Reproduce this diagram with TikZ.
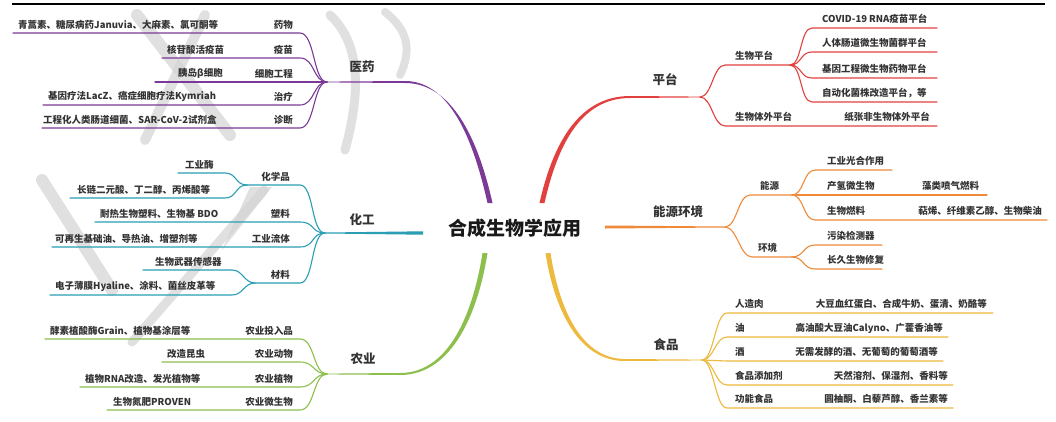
\documentclass[tikz,border=0pt]{standalone}
\usepackage{fontspec}
\setmainfont{Noto Sans CJK SC}
\usetikzlibrary{calc}
\definecolor{cmed}{HTML}{7B3A96}
\definecolor{cred}{HTML}{E2403E}
\definecolor{cora}{HTML}{EE8A3A}
\definecolor{cgold}{HTML}{EDB93E}
\definecolor{cgrn}{HTML}{8CBF4B}
\definecolor{ctea}{HTML}{2A9EB3}
\definecolor{ctxt}{HTML}{333333}
\definecolor{cwm}{HTML}{D4D4D4}
% left leaf: #1 name, #2 hub, #3 underline y, #4 line start x, #5 text x, #6 text, #7 label right x, #8 label
\newcommand\lleaf[8]{%
  \coordinate (#1e) at (#4,#3);
  \coordinate (#1k) at (300,#3);
  \node[leaf,anchor=west] (#1t) at (#5,#3-8.5) {#6};
  \node[leaf,anchor=east] (#1l) at (#7,#3-8.5) {#8};
  \draw[br] (#1e) -- (#1k) .. controls +(15,0) and +(-14,0) .. (#2);
}
% right line: #1 name, #2 hub, #3 underline y, #4 x where horizontal starts, #5 end x
\newcommand\rline[5]{%
  \coordinate (#1k) at (#4,#3);
  \coordinate (#1e) at (#5,#3);
  \draw[br] (#2) .. controls +(12,0) and +(-12,0) .. (#1k) -- (#1e);
}
\begin{document}
\begin{tikzpicture}[x=1pt,y=-1pt,
  leaf/.style={inner sep=0pt, font=\fontsize{9.5}{11}\selectfont\bfseries, text=ctxt},
  topic/.style={inner sep=0pt, font=\fontsize{12.5}{14}\selectfont\bfseries, text=ctxt},
  rootnode/.style={inner sep=0pt, font=\fontsize{19}{22}\selectfont\bfseries, text=black!90},
  br/.style={line width=1.1pt, line cap=round},
  wm/.style={cwm, line cap=round, opacity=0.7}]
\useasboundingbox (0,0) rectangle (1056,421);
\fill[white] (0,0) rectangle (1056,421);

% watermark strokes
\draw[wm, line width=12] (137,15) -- (230,135);
\draw[wm, line width=10] (205,15) -- (145,140);
\draw[wm, line width=12] (42,180) -- (112,290);
\draw[wm, line width=9] (264,190) -- (132,342);
\fill[wm] (250,187) -- (272,187) -- (222,250) -- cycle;
\draw[wm, line width=9] (330,15) .. controls (362,45) and (360,95) .. (345,150);
\draw[wm, line width=8] (385,12) .. controls (408,30) and (412,50) .. (400,75);

% top rule
\coordinate (ruleL) at (12,4);
\coordinate (ruleR) at (1045,4);
\draw[line width=2pt] (ruleL) -- (ruleR);

% root
\node[rootnode] (root) at (515,228) {合成生物学应用};

% hubs
\coordinate (med) at (327,82);
\coordinate (chem) at (325,233);
\coordinate (agri) at (327,374);
\coordinate (plat) at (700,97);
\coordinate (en) at (725,227);
\coordinate (food) at (702,360);

% main tapered branches
\fill[cmed] (487.5,203) .. controls (475.5,150) and (453.5,81) .. (405,81) -- (327,81.6)
  -- (327,82.4) -- (405,83) .. controls (456.5,83) and (480.5,150) .. (492.5,203) -- cycle;
\fill[cred] (539.5,203) .. controls (551.5,150) and (575.5,96) .. (630,96) -- (700,96.6)
  -- (700,97.4) -- (630,98) .. controls (578.5,98) and (556.5,150) .. (544.5,203) -- cycle;
\fill[ctea] (423,231.3) -- (325,232.5) -- (325,233.5) -- (423,234.7) -- cycle;
\fill[cora] (605,225.5) -- (725,226.5) -- (725,227.5) -- (605,228.5) -- cycle;
\fill[cgrn] (482.5,253) .. controls (473.5,310) and (450.5,373) .. (400,373) -- (327,373.6)
  -- (327,374.4) -- (400,375) .. controls (453.5,375) and (478.5,310) .. (487.5,253) -- cycle;
\fill[cgold] (545.5,253) .. controls (553.5,305) and (576.5,361) .. (625,361) -- (702,360.4)
  -- (702,359.6) -- (625,359) .. controls (579.5,359) and (558.5,305) .. (550.5,253) -- cycle;

% topic labels
\node[topic] (tmed) at (362,67) {医药};
\node[topic] (tchem) at (362,220) {化工};
\node[topic] (tagri) at (363,359) {农业};
\node[topic] (tplat) at (665,80) {平台};
\node[topic] (ten) at (678,212) {能源环境};
\node[topic] (tfood) at (666,345) {食品};

% ===== 医药 =====
\begin{scope}[color=cmed]
\lleaf{m1}{med}{33}{13}{18}{青蒿素、糖尿病药Januvia、大麻素、氯可酮等}{293}{药物}
\lleaf{m2}{med}{58}{162}{167}{核苷酸活疫苗}{293}{疫苗}
\lleaf{m3}{med}{82}{155}{178}{胰岛β细胞}{293}{细胞工程}
\lleaf{m4}{med}{105}{43}{48}{基因疗法LacZ、癌症细胞疗法Kymriah}{293}{治疗}
\lleaf{m5}{med}{128}{42}{43}{工程化人类肠道细菌、SAR-CoV-2试剂盒}{293}{诊断}
\end{scope}

% ===== 化工 =====
\begin{scope}[color=ctea]
\coordinate (chA) at (247,185);
\coordinate (chAk) at (300,185);
\node[leaf,anchor=east] (chAl) at (290,176.5) {化学品};
\draw[br] (chA) -- (chAk) .. controls +(14,0) and +(-14,0) .. (chem);
\coordinate (ch1e) at (178,173);
\coordinate (ch1k) at (225,173);
\node[leaf,anchor=west] (ch1t) at (185,164.5) {工业酶};
\draw[br] (ch1e) -- (ch1k) .. controls +(12,0) and +(-12,0) .. (chA);
\coordinate (ch2e) at (70,198);
\coordinate (ch2k) at (225,198);
\node[leaf,anchor=west] (ch2t) at (77,189.5) {长链二元酸、丁二醇、丙烯酸等};
\draw[br] (ch2e) -- (ch2k) .. controls +(12,0) and +(-12,0) .. (chA);
\lleaf{ch3}{chem}{222}{95}{100}{耐热生物塑料、生物基 BDO}{290}{塑料}
\lleaf{ch4}{chem}{247}{52}{55}{可再生基础油、导热油、增塑剂等}{290}{工业流体}
\coordinate (chB) at (255,283);
\coordinate (chBk) at (300,283);
\node[leaf,anchor=east] (chBl) at (290,274.5) {材料};
\draw[br] (chB) -- (chBk) .. controls +(14,0) and +(-14,0) .. (chem);
\coordinate (ch5e) at (143,270);
\coordinate (ch5k) at (232,270);
\node[leaf,anchor=west] (ch5t) at (155,261.5) {生物武器传感器};
\draw[br] (ch5e) -- (ch5k) .. controls +(11,0) and +(-11,0) .. (chB);
\coordinate (ch6e) at (50,295);
\coordinate (ch6k) at (232,295);
\node[leaf,anchor=west] (ch6t) at (55,286.5) {电子薄膜Hyaline、涂料、菌丝皮革等};
\draw[br] (ch6e) -- (ch6k) .. controls +(11,0) and +(-11,0) .. (chB);
\end{scope}

% ===== 农业 =====
\begin{scope}[color=cgrn]
\lleaf{a1}{agri}{339}{45}{50}{酵素植酸酶Grain、植物基涂层等}{293}{农业投入品}
\lleaf{a2}{agri}{362}{162}{167}{改造昆虫}{293}{农业动物}
\lleaf{a3}{agri}{387}{80}{85}{植物RNA改造、发光植物等}{293}{农业植物}
\lleaf{a4}{agri}{410}{107}{113}{生物氮肥PROVEN}{293}{农业微生物}
\end{scope}

% ===== 平台 =====
\begin{scope}[color=cred]
\coordinate (plA) at (790,65);
\node[leaf,anchor=west] (plAl) at (735,56) {生物平台};
\rline{plA0}{plat}{65}{725}{790}
\rline{pl1}{plA}{28}{812}{937}
\rline{pl2}{plA}{52}{812}{937}
\rline{pl3}{plA}{78}{812}{937}
\rline{pl4}{plA}{102}{812}{937}
\node[leaf,anchor=west] (pl1t) at (822,19) {COVID-19 RNA疫苗平台};
\node[leaf,anchor=west] (pl2t) at (822,43) {人体肠道微生物菌群平台};
\node[leaf,anchor=west] (pl3t) at (822,69) {基因工程微生物药物平台};
\node[leaf,anchor=west] (pl4t) at (822,93) {自动化菌株改造平台，等};
\rline{pl5}{plat}{126}{725}{937}
\node[leaf,anchor=west] (pl5l) at (735,117) {生物体外平台};
\node[leaf,anchor=east] (pl5t) at (930,117) {纸张非生物体外平台};
\end{scope}

% ===== 能源环境 =====
\begin{scope}[color=cora]
\coordinate (enA) at (792,195);
\node[leaf,anchor=west] (enAl) at (760,186) {能源};
\rline{enA0}{en}{195}{750}{792}
\rline{e1}{enA}{170}{815}{892}
\coordinate (e2e) at (987,195);
\draw[br] (enA) -- (e2e);
\rline{e3}{enA}{220}{815}{1047}
\node[leaf,anchor=west] (e1t) at (827,161) {工业光合作用};
\node[leaf,anchor=west] (e2t) at (827,186) {产氢微生物};
\node[leaf,anchor=west] (e2u) at (922,186) {藻类喷气燃料};
\node[leaf,anchor=west] (e3t) at (827,211) {生物燃料};
\node[leaf,anchor=east] (e3u) at (1042,211) {萜烯、纤维素乙醇、生物柴油};
\coordinate (enB) at (792,257);
\node[leaf,anchor=west] (enBl) at (758,248) {环境};
\rline{enB0}{en}{257}{752}{792}
\rline{e4}{enB}{245}{815}{882}
\rline{e5}{enB}{269}{815}{882}
\node[leaf,anchor=west] (e4t) at (827,236) {污染检测器};
\node[leaf,anchor=west] (e5t) at (827,260) {长久生物修复};
\end{scope}

% ===== 食品 =====
\begin{scope}[color=cgold]
\rline{f1}{food}{313}{727}{993}
\rline{f2}{food}{337}{727}{948}
\rline{f3}{food}{361}{727}{943}
\rline{f4}{food}{385}{727}{953}
\rline{f5}{food}{408}{727}{953}
\node[leaf,anchor=west] (f1l) at (735,304) {人造肉};
\node[leaf,anchor=east] (f1t) at (987,304) {大豆血红蛋白、合成牛奶、蛋清、奶酪等};
\node[leaf,anchor=west] (f2l) at (735,328) {油};
\node[leaf,anchor=east] (f2t) at (943,328) {高油酸大豆油Calyno、广藿香油等};
\node[leaf,anchor=west] (f3l) at (735,352) {酒};
\node[leaf,anchor=east] (f3t) at (938,352) {无需发酵的酒、无葡萄的葡萄酒等};
\node[leaf,anchor=west] (f4l) at (735,376) {食品添加剂};
\node[leaf,anchor=east] (f4t) at (948,376) {天然溶剂、保湿剂、香料等};
\node[leaf,anchor=west] (f5l) at (735,399) {功能食品};
\node[leaf,anchor=east] (f5t) at (948,399) {圆柚酮、白藜芦醇、香兰素等};
\end{scope}
\end{tikzpicture}
\end{document}
